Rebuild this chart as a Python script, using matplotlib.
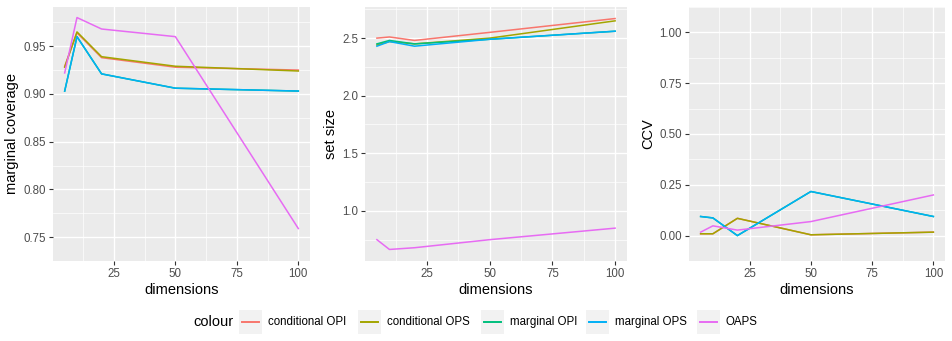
import numpy as np
import matplotlib.pyplot as plt
from matplotlib.lines import Line2D
from matplotlib.patches import Rectangle
from matplotlib.ticker import FormatStrFormatter

plt.rcParams['font.family'] = ['Liberation Sans', 'DejaVu Sans']

dims = [5, 10, 20, 50, 100]
methods = ['conditional OPI', 'conditional OPS', 'marginal OPI', 'marginal OPS', 'OAPS']
colours = ['#F8766D', '#A3A500', '#00BF7D', '#00B0F6', '#E76BF3']

# marginal coverage
cov_cond_opi = [0.929, 0.964, 0.938, 0.928, 0.925]
cov_cond_ops = [0.928, 0.965, 0.939, 0.929, 0.924]
cov_marg_opi = [0.903, 0.960, 0.921, 0.906, 0.903]
cov_marg_ops = [0.903, 0.960, 0.921, 0.906, 0.903]
cov_oaps = [0.922, 0.980, 0.968, 0.960, 0.759]

# set size
size_cond_opi = [2.50, 2.51, 2.48, 2.55, 2.67]
size_cond_ops = [2.44, 2.47, 2.45, 2.50, 2.65]
size_marg_opi = [2.45, 2.48, 2.45, 2.49, 2.56]
size_marg_ops = [2.43, 2.47, 2.43, 2.49, 2.56]
size_oaps = [0.75, 0.665, 0.68, 0.75, 0.85]

# CCV
ccv_cond_opi = [0.009, 0.009, 0.085, 0.004, 0.017]
ccv_cond_ops = [0.009, 0.009, 0.085, 0.004, 0.017]
ccv_marg_opi = [0.094, 0.087, 0.0, 0.217, 0.094]
ccv_marg_ops = [0.094, 0.087, 0.0, 0.217, 0.094]
ccv_oaps = [0.017, 0.048, 0.027, 0.069, 0.200]

panels = [
    ('marginal coverage', [cov_cond_opi, cov_cond_ops, cov_marg_opi, cov_marg_ops, cov_oaps],
     [0.75, 0.80, 0.85, 0.90, 0.95], '%.2f', None),
    ('set size', [size_cond_opi, size_cond_ops, size_marg_opi, size_marg_ops, size_oaps],
     [1.0, 1.5, 2.0, 2.5], '%.1f', None),
    ('CCV', [ccv_cond_opi, ccv_cond_ops, ccv_marg_opi, ccv_marg_ops, ccv_oaps],
     [0.0, 0.25, 0.5, 0.75, 1.0], '%.2f', (0, 1)),
]

W, H = 953, 341
fig = plt.figure(figsize=(W / 100, H / 100), dpi=100)

boxes = [(53, 310), (365, 627), (689, 945)]
top, bottom = 7, 261

for (l, r), (ylab, series, yt, fmt, ylim) in zip(boxes, panels):
    ax = fig.add_axes([l / W, 1 - bottom / H, (r - l) / W, (bottom - top) / H])
    ax.set_facecolor('#EBEBEB')
    for s in ax.spines.values():
        s.set_visible(False)
    for vals, c in zip(series, colours):
        ax.plot(dims, vals, color=c, lw=1.1, zorder=3)
    lo, hi = ylim if ylim else (min(min(v) for v in series), max(max(v) for v in series))
    pad = (hi - lo) * 0.05
    ax.set_ylim(lo - pad, hi + pad)
    ax.set_xlim(5 - 4.75, 100 + 4.75)
    xt = [25, 50, 75, 100]
    ax.set_xticks(xt)
    ax.set_yticks(yt)
    step = yt[1] - yt[0]
    ax.set_xticks([12.5, 37.5, 62.5, 87.5], minor=True)
    ax.set_yticks(np.arange(yt[0] - step / 2, yt[-1] + step, step), minor=True)
    ax.yaxis.set_major_formatter(FormatStrFormatter(fmt))
    ax.grid(True, which='major', color='white', lw=1.0, zorder=1)
    ax.grid(True, which='minor', color='white', lw=0.5, zorder=1)
    ax.tick_params(which='major', length=3, width=0.8, color='#333333',
                   labelcolor='#4D4D4D', labelsize=8.3, pad=2)
    ax.tick_params(which='minor', length=0)
    ax.set_xlabel('dimensions', fontsize=10.5, labelpad=2)
    ax.set_ylabel(ylab, fontsize=10.5, labelpad=3)

# legend at the bottom
ly = 1 - 322 / H
fig.text(193 / W, ly, 'colour', fontsize=10.5, va='center', ha='left')
key_x = [239, 358, 481, 586, 697]
for x, m, c in zip(key_x, methods, colours):
    fig.add_artist(Rectangle((x / W, 1 - 334 / H), 23 / W, 24 / H,
                             transform=fig.transFigure, facecolor='#F2F2F2', edgecolor='none'))
    fig.add_artist(Line2D([(x + 3) / W, (x + 20) / W], [ly, ly],
                          transform=fig.transFigure, color=c, lw=1.4))
    fig.text((x + 29) / W, ly, m, fontsize=8.3, va='center', ha='left')

fig.savefig('out.png', dpi=100)
